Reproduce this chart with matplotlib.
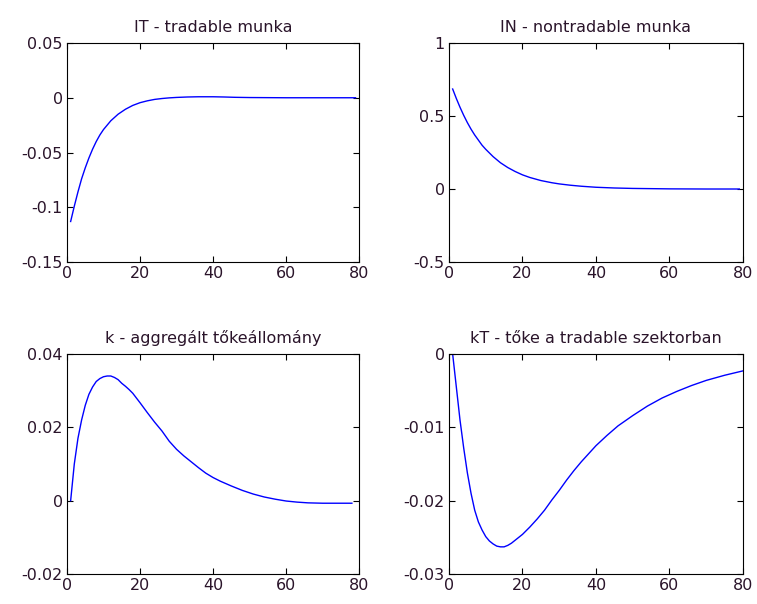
import matplotlib.pyplot as plt

# impulzusválaszok (értékek)
x_it = [1, 2, 3, 4, 5, 6, 7, 8, 9, 10, 12, 14, 16, 18, 20, 22, 24, 26, 28, 30,
        33, 36, 40, 43, 46, 50, 60, 70, 79]
it_vals = [-0.113, -0.099, -0.086, -0.074, -0.064, -0.055, -0.047, -0.040, -0.034,
           -0.029, -0.021, -0.015, -0.0105, -0.007, -0.0045, -0.0028, -0.0015,
           -0.0007, -0.0001, 0.0003, 0.0007, 0.0009, 0.0009, 0.0007, 0.0004,
           0.0002, 0.0, 0.0, 0.0]

x_in = [1, 2, 3, 4, 5, 6, 7, 8, 9, 10, 12, 14, 16, 18, 20, 22, 25, 28, 30, 33,
        36, 40, 45, 50, 60, 70, 79]
in_vals = [0.685, 0.62, 0.56, 0.505, 0.455, 0.41, 0.37, 0.335, 0.30, 0.272, 0.222,
           0.18, 0.147, 0.12, 0.097, 0.079, 0.058, 0.043, 0.035, 0.026, 0.019,
           0.012, 0.007, 0.004, 0.001, 0.0, 0.0]

x_k = [1, 2, 3, 4, 5, 6, 7, 8, 9, 10, 11, 12, 13, 14, 15, 16, 17, 18, 19, 20,
       22, 24, 26, 28, 30, 32, 34, 36, 38, 40, 42, 45, 48, 51, 54, 57, 60, 63,
       66, 70, 78]
k_vals = [0.0, 0.010, 0.017, 0.022, 0.026, 0.029, 0.031, 0.0325, 0.0333, 0.0338,
          0.034, 0.034, 0.0336, 0.033, 0.032, 0.0312, 0.0303, 0.0293, 0.028,
          0.0267, 0.024, 0.0214, 0.019, 0.0162, 0.014, 0.0122, 0.0106, 0.009,
          0.0075, 0.0063, 0.0053, 0.004, 0.0028, 0.0018, 0.001, 0.0004, -0.0001,
          -0.0004, -0.0006, -0.0007, -0.0007]

x_kt = [1, 2, 3, 4, 5, 6, 7, 8, 9, 10, 11, 12, 13, 14, 15, 16, 17, 18, 20, 22,
        24, 26, 28, 30, 32, 34, 36, 38, 40, 43, 46, 50, 54, 58, 62, 66, 70, 75, 80]
kt_vals = [0.0, -0.0045, -0.009, -0.0128, -0.0162, -0.019, -0.0213, -0.0229, -0.024,
           -0.0249, -0.0255, -0.0259, -0.0262, -0.0263, -0.0263, -0.0261, -0.0258,
           -0.0254, -0.0246, -0.0236, -0.0225, -0.0213, -0.0199, -0.0186, -0.0172,
           -0.0159, -0.0147, -0.0136, -0.0125, -0.0111, -0.0098, -0.0084, -0.0071,
           -0.006, -0.0051, -0.0043, -0.0036, -0.0029, -0.0023]

titles = ["IT - tradable munka", "IN - nontradable munka",
          "k - aggregált tőkeállomány", "kT - tőke a tradable szektorban"]
yticks = [[-0.15, -0.1, -0.05, 0, 0.05], [-0.5, 0, 0.5, 1],
          [-0.02, 0, 0.02, 0.04], [-0.03, -0.02, -0.01, 0]]
yticklabels = [["-0.15", "-0.1", "-0.05", "0", "0.05"], ["-0.5", "0", "0.5", "1"],
               ["-0.02", "0", "0.02", "0.04"], ["-0.03", "-0.02", "-0.01", "0"]]
xticks = [0, 20, 40, 60, 80]

plt.rcParams['font.family'] = ['DejaVu Sans']
txt = '#2a142a'

fig = plt.figure(figsize=(7.57, 6.04), dpi=100)
pos = [[0.0885, 0.5662, 0.386, 0.3626], [0.5931, 0.5662, 0.3884, 0.3626],
       [0.0885, 0.0497, 0.386, 0.3642], [0.5931, 0.0497, 0.3884, 0.3642]]
series = [(x_it, it_vals), (x_in, in_vals), (x_k, k_vals), (x_kt, kt_vals)]

for i in range(4):
    ax = fig.add_axes(pos[i])
    xs, ys = series[i]
    ax.plot(xs, ys, color='#0000ff', lw=1.0)
    ax.set_xlim(0, 80)
    ax.set_ylim(yticks[i][0], yticks[i][-1])
    ax.set_xticks(xticks)
    ax.set_yticks(yticks[i])
    ax.set_yticklabels(yticklabels[i])
    ax.tick_params(direction='in', top=True, right=True, length=4, width=0.8,
                   labelsize=11.5, labelcolor=txt, pad=3)
    for s in ax.spines.values():
        s.set_linewidth(0.8)
    ax.set_title(titles[i], fontsize=11.5, color=txt, pad=8)

fig.savefig('out.png', dpi=100, facecolor='white')
